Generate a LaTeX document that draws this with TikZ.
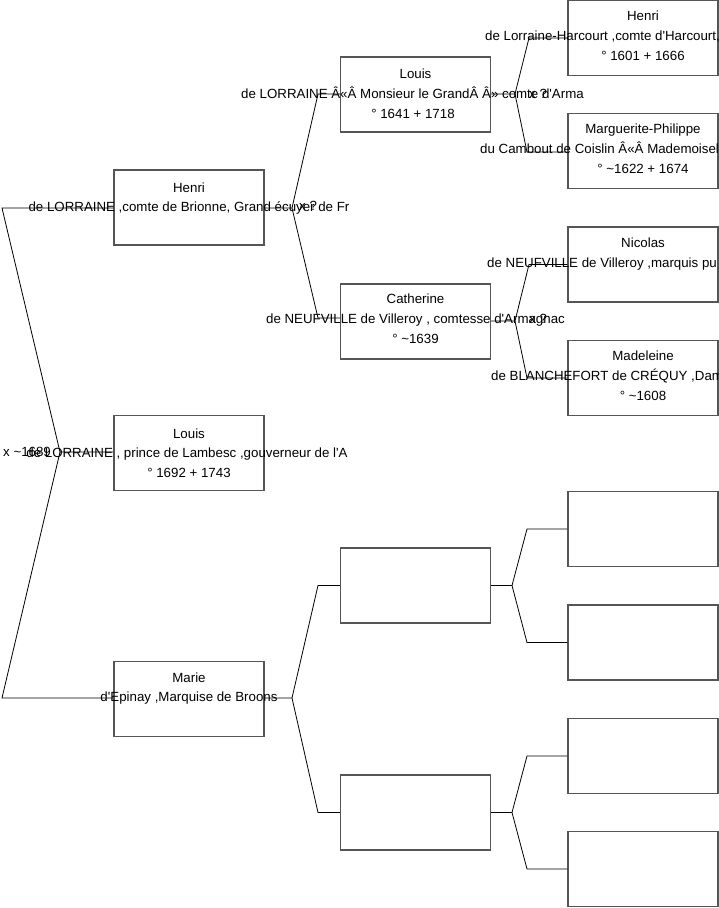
\documentclass[tikz,border=0pt]{standalone}
\usepackage{fontspec}
\setmainfont{Liberation Sans}[Ligatures=TeXOff]
\usetikzlibrary{calc}
\definecolor{boxline}{RGB}{85,85,85}
\newcommand{\tld}{\char"007E\relax}
\tikzset{
  person/.style={draw=boxline, line width=1.1pt, minimum width=150pt, minimum height=75pt, inner sep=0pt, fill=none},
  txt/.style={inner sep=0pt, anchor=base, font=\fontsize{13.3pt}{15pt}\selectfont},
  txtw/.style={inner sep=0pt, anchor=base west, font=\fontsize{13.3pt}{15pt}\selectfont},
  link/.style={draw=black, line width=0.8pt},
}
\begin{document}
\begin{tikzpicture}[x=1pt,y=-1pt]
\useasboundingbox (0,0) rectangle (719,908);
\fill[white] (0,0) rectangle (719,908);

% generation 1
\node[person] (henri1) at (189,207.5) {};
\node[person] (louis1) at (189,453) {};
\node[person] (marie1) at (189,699) {};
% generation 2
\node[person] (louis2) at (415.5,94.5) {};
\node[person] (cath2) at (415.5,321.5) {};
\node[person] (blankA) at (415.5,585.5) {};
\node[person] (blankB) at (415.5,812.5) {};
% generation 3
\node[person] (henri3) at (643,38) {};
\node[person] (marg3) at (643,151) {};
\node[person] (nico3) at (643,264.5) {};
\node[person] (made3) at (643,378) {};
\node[person] (blankC) at (643,529) {};
\node[person] (blankD) at (643,642.5) {};
\node[person] (blankE) at (643,756) {};
\node[person] (blankF) at (643,869) {};

% junction coordinates
\coordinate (jRoot) at (60,452);
\coordinate (eRootT) at (2,208);
\coordinate (eRootB) at (2,698);
\coordinate (jH1) at (292,208);
\coordinate (eH1T) at (318,94);
\coordinate (eH1B) at (318,318);
\coordinate (jM1) at (292,698);
\coordinate (eM1T) at (318,585.5);
\coordinate (eM1B) at (318,812.5);
\coordinate (jL2) at (515,94);
\coordinate (eL2T) at (529,38);
\coordinate (eL2B) at (527,152);
\coordinate (jC2) at (515,321);
\coordinate (eC2T) at (529,264.5);
\coordinate (eC2B) at (527,378);
\coordinate (jA2) at (512,585.5);
\coordinate (eA2T) at (527,529);
\coordinate (eA2B) at (527,642.5);
\coordinate (jB2) at (512,812.5);
\coordinate (eB2T) at (527,756);
\coordinate (eB2B) at (527,869);

% connectors
\draw[link] (louis1.west |- jRoot) -- (jRoot) -- (eRootT) -- (henri1.west |- eRootT);
\draw[link] (jRoot) -- (eRootB) -- (marie1.west |- eRootB);
\draw[link] (henri1.east |- jH1) -- (jH1) -- (eH1T) -- (louis2.west |- eH1T);
\draw[link] (jH1) -- (eH1B) -- (cath2.west |- eH1B);
\draw[link] (marie1.east |- jM1) -- (jM1) -- (eM1T) -- (blankA.west |- eM1T);
\draw[link] (jM1) -- (eM1B) -- (blankB.west |- eM1B);
\draw[link] (louis2.east |- jL2) -- (jL2) -- (eL2T) -- (henri3.west |- eL2T);
\draw[link] (jL2) -- (eL2B) -- (marg3.west |- eL2B);
\draw[link] (cath2.east |- jC2) -- (jC2) -- (eC2T) -- (nico3.west |- eC2T);
\draw[link] (jC2) -- (eC2B) -- (made3.west |- eC2B);
\draw[link] (blankA.east |- jA2) -- (jA2) -- (eA2T) -- (blankC.west |- eA2T);
\draw[link] (jA2) -- (eA2B) -- (blankD.west |- eA2B);
\draw[link] (blankB.east |- jB2) -- (jB2) -- (eB2T) -- (blankE.west |- eB2T);
\draw[link] (jB2) -- (eB2B) -- (blankF.west |- eB2B);

% texts generation 1
\node[txt] (t1a) at (189,192.5) {Henri};
\node[txt] (t1b) at (189,211) {de LORRAINE ,comte de Brionne, Grand écuyer de Fr};
\node[txt] (t2a) at (189,438) {Louis};
\node[txt] (t2b) at (187,457.5) {de LORRAINE , prince de Lambesc ,gouverneur de l'A};
\node[txt] (t2c) at (189,477.5) {° 1692 + 1743};
\node[txt] (t3a) at (189,682) {Marie};
\node[txt] (t3b) at (189,701.5) {d'Epinay ,Marquise de Broons};
% texts generation 2
\node[txt] (t4a) at (415.5,78.5) {Louis};
\node[txt] (t4b) at (412.5,98) {de LORRAINE Â«Â Monsieur le GrandÂ Â» comte d'Arma};
\node[txt] (t4c) at (413,118) {° 1641 + 1718};
\node[txt] (t5a) at (415.5,303.5) {Catherine};
\node[txt] (t5b) at (415.5,323) {de NEUFVILLE de Villeroy , comtesse d'Armagnac};
\node[txt] (t5c) at (415.5,343) {° \tld1639};
% texts generation 3
\node[txt] (t6a) at (643,20.5) {Henri};
\node[txtw] (t6b) at (485,40.5) {de Lorraine-Harcourt ,comte d'Harcourt,};
\node[txt] (t6c) at (643,60.5) {° 1601 + 1666};
\node[txt] (t7a) at (643,133.5) {Marguerite-Philippe};
\node[txtw] (t7b) at (480,153) {du Cambout de Coislin Â«Â Mademoisel};
\node[txt] (t7c) at (643,173) {° \tld1622 + 1674};
\node[txt] (t8a) at (643,247.5) {Nicolas};
\node[txtw] (t8b) at (487,267.5) {de NEUFVILLE de Villeroy ,marquis pu};
\node[txt] (t9a) at (643,360.5) {Madeleine};
\node[txtw] (t9b) at (491,380.5) {de BLANCHEFORT de CRÉQUY ,Dam};
\node[txt] (t9c) at (643,400.5) {° \tld1608};

% marriage labels
\node[txtw] (mRoot) at (3,456) {x \tld1689};
\node[txtw] (mH1) at (299,210.5) {x ?};
\node[txtw] (mL2) at (529,98) {x ?};
\node[txtw] (mC2) at (529,323) {x ?};
\end{tikzpicture}
\end{document}
